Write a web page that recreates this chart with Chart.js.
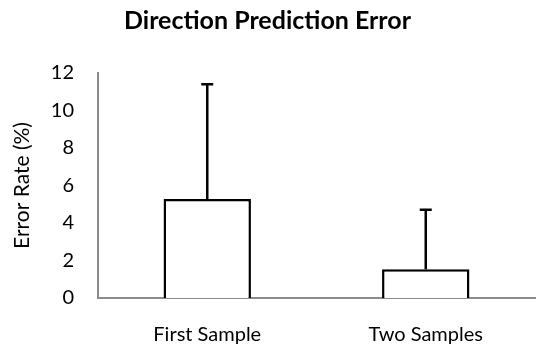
<!DOCTYPE html>
<html>
<head>
<meta charset="utf-8">
<script src="https://cdn.jsdelivr.net/npm/chart.js@4"></script>
<style>
  html, body { margin: 0; padding: 0; background: #fff; }
  #wrap { width: 550px; height: 359px; }
</style>
</head>
<body>
<div id="wrap"><canvas id="chart"></canvas></div>
<script>
const categories = ['First Sample', 'Two Samples']
const errorRate = [5.28, 1.53]
const errorPlus = [6.12, 3.18]
const yTicks = [0, 2, 4, 6, 8, 10, 12]

const fontFamily = 'Lato, "Open Sans", sans-serif'

// draws the upper error bars from the bar top using the chart's own scales
const errorBars = {
    id: 'errorBars',
    afterDatasetsDraw(chart) {
        const meta = chart.getDatasetMeta(0)
        const y = chart.scales.y
        const c = chart.ctx
        c.save()
        c.strokeStyle = '#000'
        c.lineWidth = 2.5
        for (let i = 0; i < meta.data.length; i++) {
            const bar = meta.data[i]
            const top = y.getPixelForValue(errorRate[i] + errorPlus[i])
            c.beginPath()
            c.moveTo(bar.x, bar.y)
            c.lineTo(bar.x, top)
            c.moveTo(bar.x - 6, top)
            c.lineTo(bar.x + 6, top)
            c.stroke()
        }
        c.restore()
    }
}

new Chart(document.getElementById('chart').getContext('2d'), {
    type: 'bar',
    data: {
        labels: categories,
        datasets: [{
            label: 'Error Rate',
            data: errorRate,
            backgroundColor: '#fff',
            borderColor: '#000',
            borderWidth: 2.5,
            categoryPercentage: 1,
            barPercentage: 0.4
        }]
    },
    options: {
        responsive: true,
        maintainAspectRatio: false,
        animation: false,
        layout: { padding: { left: 0, right: 15, top: 0, bottom: 0 } },
        plugins: {
            legend: { display: false },
            tooltip: { enabled: false },
            title: {
                display: true,
                text: 'Direction Prediction Error',
                color: '#000',
                font: { family: fontFamily, size: 25, weight: 'bold' },
                padding: { top: 6, bottom: 37 }
            }
        },
        scales: {
            x: {
                grid: { display: false, drawTicks: false },
                border: { color: '#8c8c8c', width: 2 },
                ticks: { color: '#000', font: { family: fontFamily, size: 20 }, padding: 25 },
                afterFit(scale) { scale.height = 61 }
            },
            y: {
                min: 0,
                max: 12,
                grid: { display: false, drawTicks: false },
                border: { color: '#8c8c8c', width: 2 },
                afterBuildTicks(scale) { scale.ticks = yTicks.map(v => ({ value: v })) },
                ticks: { color: '#000', font: { family: fontFamily, size: 20 }, padding: 24 },
                title: {
                    display: true,
                    text: 'Error Rate (%)',
                    color: '#000',
                    font: { family: fontFamily, size: 21 },
                    padding: { top: 10, bottom: 0 }
                },
                afterFit(scale) { scale.width = 98 }
            }
        }
    },
    plugins: [errorBars]
})
</script>
</body>
</html>
